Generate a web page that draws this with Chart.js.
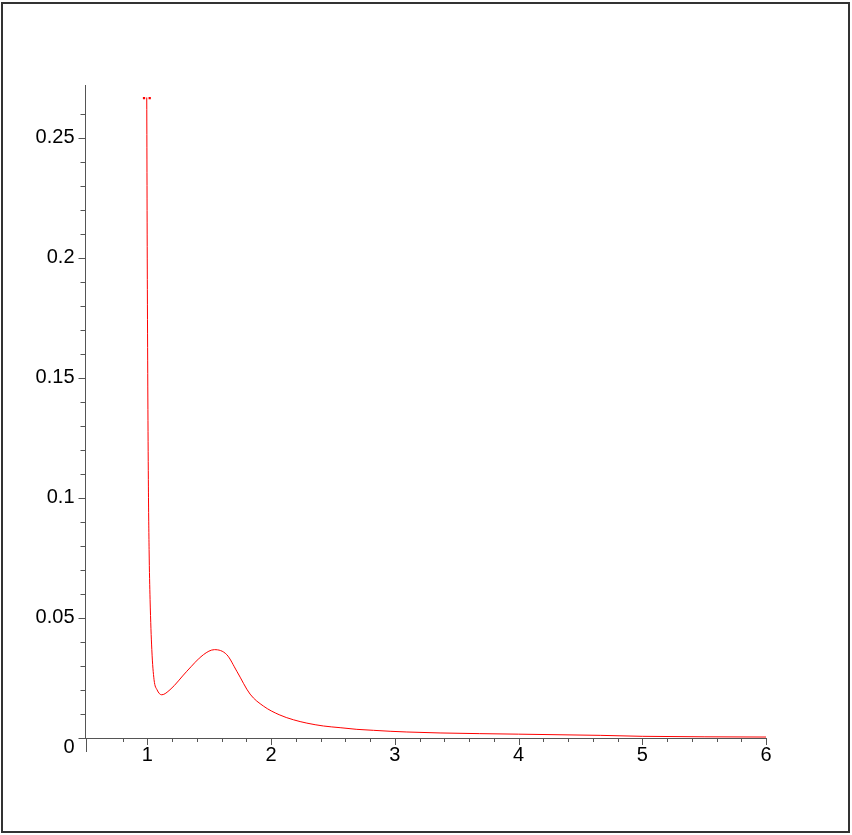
<!DOCTYPE html>
<html>
<head>
<meta charset="utf-8">
<script src="https://cdn.jsdelivr.net/npm/chart.js@4/dist/chart.umd.min.js"></script>
<style>
  html, body { margin: 0; padding: 0; background: #fff; }
  canvas { display: block; }
</style>
</head>
<body>
<canvas id="canvas" width="852" height="835"></canvas>
<script>
  // curve values
  const xValues = [0.995, 1.000, 1.008, 1.014, 1.022, 1.036, 1.054, 1.078, 1.116, 1.183,
                   1.319, 1.453, 1.542, 1.642, 1.723, 1.830, 1.938, 2.065, 2.180, 2.289,
                   2.423, 2.558, 2.693, 2.827, 2.962, 3.097, 3.366, 4.0, 4.66, 5.0, 6.0];
  const yValues = [0.2668, 0.1868, 0.1076, 0.0785, 0.0576, 0.0368, 0.0243, 0.0201, 0.0180, 0.0201,
                   0.0278, 0.0347, 0.0368, 0.0347, 0.0278, 0.0183, 0.0133, 0.0097, 0.0076, 0.0062,
                   0.0050, 0.0043, 0.0036, 0.0032, 0.0028, 0.0025, 0.0021, 0.0016, 0.0011, 0.0007, 0.0004];

  // little dotted cap at the top of the spike
  const capX = [0.973, 1.019];
  const capY = [0.2665, 0.2665];

  const xTickValues = [1, 2, 3, 4, 5, 6];
  const xTickLabels = ['1', '2', '3', '4', '5', '6'];
  const yTickValues = [0.05, 0.1, 0.15, 0.2, 0.25];
  const yTickLabels = ['0.05', '0.1', '0.15', '0.2', '0.25'];

  const FONT = '"Liberation Sans", Arial, Helvetica, sans-serif';
  const AXIS = '#555';

  function near(a, b) { return Math.abs(a - b) < 1e-6; }
  function onStep(v, step) { return Math.abs(v / step - Math.round(v / step)) < 1e-6; }

  const frame = {
    id: 'frame',
    beforeDraw(chart) {
      const c = chart.ctx;
      c.save();
      c.fillStyle = '#fff';
      c.fillRect(0, 0, chart.width, chart.height);
      c.strokeStyle = '#333';
      c.lineWidth = 2;
      c.strokeRect(2, 3, 847, 829);
      c.restore();
    },
    afterDraw(chart) {
      const c = chart.ctx;
      const xs = chart.scales.x, ys = chart.scales.y;
      const area = chart.chartArea;
      c.save();
      c.strokeStyle = AXIS;
      c.lineWidth = 1;
      c.beginPath();
      // x tick marks, below the axis
      xs.ticks.forEach(t => {
        if (t.value <= 0.5 || !onStep(t.value, 0.2)) return;
        const px = Math.round(xs.getPixelForValue(t.value)) + 0.5;
        const len = onStep(t.value, 1) ? 7 : 4;
        c.moveTo(px, area.bottom);
        c.lineTo(px, area.bottom + len);
      });
      // y tick marks, left of the axis
      ys.ticks.forEach(t => {
        if (!onStep(t.value, 0.01)) return;
        const py = Math.round(ys.getPixelForValue(t.value)) + 0.5;
        const len = onStep(t.value, 0.05) ? 7 : 5;
        c.moveTo(area.left - len, py);
        c.lineTo(area.left, py);
      });
      // y axis runs a bit below the x axis
      const ax = Math.round(area.left) + 0.5;
      c.moveTo(ax, area.bottom);
      c.lineTo(ax, area.bottom + 14);
      c.stroke();

      // the zero label sits below the origin
      c.fillStyle = '#000';
      c.font = '20px ' + FONT;
      c.textAlign = 'right';
      c.textBaseline = 'middle';
      c.fillText('0', area.left - 11, ys.getPixelForValue(0) + 9);
      c.restore();
    }
  };

  const ctx = document.getElementById('canvas').getContext('2d');

  const myChart = new Chart(ctx, {
    type: 'scatter',
    data: {
      datasets: [{
        data: xValues.map((x, i) => ({ x: x, y: yValues[i] })),
        showLine: true,
        borderColor: 'rgb(255,0,0)',
        backgroundColor: 'rgb(255,0,0)',
        borderWidth: 1,
        pointRadius: 0,
        cubicInterpolationMode: 'monotone'
      },
      {
        data: capX.map((x, i) => ({ x: x, y: capY[i] })),
        showLine: false,
        pointStyle: 'rect',
        pointRadius: 1.6,
        borderWidth: 0,
        backgroundColor: 'rgb(255,0,0)'
      }]
    },
    options: {
      responsive: false,
      animation: false,
      layout: { padding: { left: 0, top: 85, right: 86, bottom: 47 } },
      plugins: {
        legend: { display: false },
        tooltip: { enabled: false }
      },
      scales: {
        x: {
          type: 'linear',
          min: 0.5,
          max: 6,
          afterFit: s => { s.height = 50; },
          border: { display: true, color: AXIS, width: 1 },
          grid: { display: false, drawTicks: false },
          ticks: {
            stepSize: 0.2,
            autoSkip: false,
            maxRotation: 0,
            padding: 5,
            color: '#000',
            font: { family: FONT, size: 20 },
            callback: v => {
              const i = xTickValues.findIndex(t => near(t, v));
              return i >= 0 ? xTickLabels[i] : '';
            }
          }
        },
        y: {
          type: 'linear',
          min: 0,
          max: 0.272,
          afterFit: s => { s.width = 85.5; },
          border: { display: true, color: AXIS, width: 1 },
          grid: { display: false, drawTicks: false },
          ticks: {
            stepSize: 0.01,
            autoSkip: false,
            padding: 11,
            color: '#000',
            font: { family: FONT, size: 20 },
            callback: v => {
              const i = yTickValues.findIndex(t => near(t, v));
              return i >= 0 ? yTickLabels[i] : '';
            }
          }
        }
      }
    },
    plugins: [frame]
  });
</script>
</body>
</html>
